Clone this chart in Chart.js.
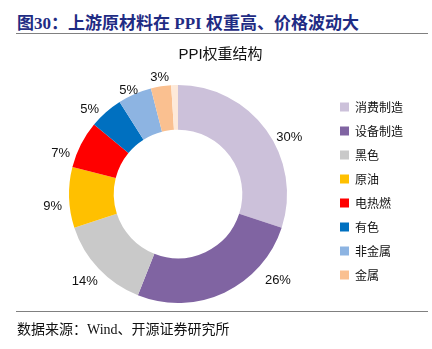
<!DOCTYPE html>
<html lang="zh">
<head>
    <meta charset="UTF-8">
    <title>PPI权重结构</title>
    <script src="https://cdn.jsdelivr.net/npm/chart.js"></script>
    <style>
        body { margin: 0; width: 432px; height: 349px; position: relative; background: #fff; overflow: hidden; }
        #head {
            position: absolute; left: 17px; top: 9px;
            font: bold 17px "Liberation Serif", "Noto Sans CJK SC", serif;
            color: #1f2c84; white-space: nowrap;
        }
        .rule { position: absolute; left: 16px; width: 412px; height: 0; border-top: 1.5px solid #808080; }
        #foot {
            position: absolute; left: 17px; top: 318px;
            font: 14px "Liberation Serif", "Noto Sans CJK SC", serif;
            color: #111; white-space: nowrap;
        }
        #wrap { position: absolute; left: 0; top: 0; width: 432px; height: 349px; }
    </style>
</head>
<body>
    <div id="head">图30：上游原材料在 PPI 权重高、价格波动大</div>
    <div class="rule" style="top:33px"></div>
    <div id="wrap"><canvas id="ppiChart"></canvas></div>
    <div class="rule" style="top:311px"></div>
    <div id="foot">数据来源：Wind、开源证券研究所</div>

    <script>
        // categories + weights (%), last tiny slice has no legend entry
        const categories = ['消费制造', '设备制造', '黑色', '原油', '电热燃', '有色', '非金属', '金属', ''];
        const weights = [30, 26, 14, 9, 7, 5, 5, 3, 1];
        const pctLabels = ['30%', '26%', '14%', '9%', '7%', '5%', '5%', '3%', ''];
        const colors = ['#CCC1DA', '#8064A2', '#C9C9C9', '#FFC000', '#FF0000', '#0070C0', '#8DB4E2', '#FAC090', '#FDE9D9'];

        // label placement tweaks: angle nudge (deg) and gap outside the ring (px)
        const labelNudge = [9, -24, 0, -4, -8, -5, -2, 0, 0];
        const labelGap = [16, 23, 19, 17, 15, 13, 6, 9, 0];

        const outsideLabels = {
            id: 'outsideLabels',
            afterDatasetsDraw(chart) {
                const ctx = chart.ctx;
                const arcs = chart.getDatasetMeta(0).data;
                ctx.save();
                ctx.font = '13px "Liberation Sans", Arial, sans-serif';
                ctx.fillStyle = '#111';
                ctx.textAlign = 'center';
                ctx.textBaseline = 'middle';
                arcs.forEach((arc, i) => {
                    if (!pctLabels[i]) return;
                    const p = arc.getProps(['x', 'y', 'startAngle', 'endAngle', 'outerRadius'], true);
                    const mid = (p.startAngle + p.endAngle) / 2 + labelNudge[i] * Math.PI / 180;
                    const r = p.outerRadius + labelGap[i];
                    ctx.fillText(pctLabels[i], p.x + Math.cos(mid) * r, p.y + Math.sin(mid) * r);
                });
                ctx.restore();
            }
        };

        const ctx = document.getElementById('ppiChart').getContext('2d');
        new Chart(ctx, {
            type: 'doughnut',
            data: {
                labels: categories,
                datasets: [{
                    data: weights,
                    backgroundColor: colors,
                    borderWidth: 0
                }]
            },
            options: {
                responsive: true,
                maintainAspectRatio: false,
                animation: false,
                cutout: '59%',
                radius: 109,
                layout: { padding: { left: 28, right: 19, bottom: 29, top: 0 } },
                plugins: {
                    title: {
                        display: true,
                        text: 'PPI权重结构',
                        color: '#111',
                        font: { family: '"Liberation Sans", "Noto Sans CJK SC", sans-serif', size: 15, weight: 'normal' },
                        padding: { top: 46, bottom: 4 }
                    },
                    legend: {
                        position: 'right',
                        fullSize: false,
                        align: 'start',
                        title: { display: true, text: ' ', font: { size: 12 }, padding: 3.3 },
                        labels: {
                            boxWidth: 9,
                            boxHeight: 9,
                            padding: 12,
                            color: '#111',
                            font: { family: '"Noto Sans CJK SC", sans-serif', size: 12 },
                            filter: item => item.index < 8
                        }
                    },
                    tooltip: { enabled: false }
                }
            },
            plugins: [outsideLabels]
        });
    </script>
</body>
</html>
